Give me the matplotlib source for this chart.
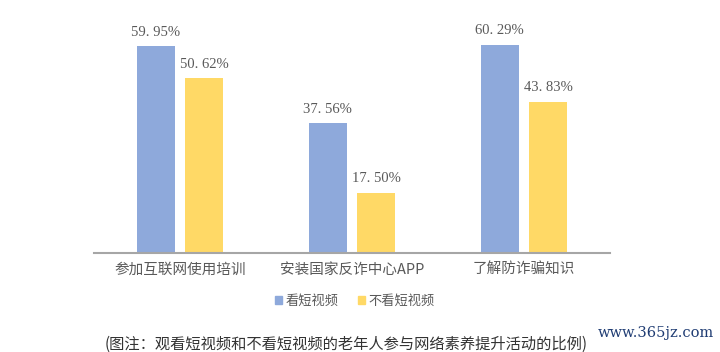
import numpy as np
import matplotlib
matplotlib.use("Agg")
import matplotlib.pyplot as plt
from matplotlib.patches import Rectangle

plt.rcParams['font.family'] = ['Noto Sans CJK SC', 'DejaVu Sans']

# Data
categories = ['参加互联网使用培训', '安装国家反诈中心APP', '了解防诈骗知识']
watch = [59.95, 37.56, 60.29]
no_watch = [50.62, 17.50, 43.83]
series_names = ['看短视频', '不看短视频']
caption = '(图注：观看短视频和不看短视频的老年人参与网络素养提升活动的比例)'
watermark = 'www.365jz.com'

blue = '#8EA9DB'
yellow = '#FFD966'
grey = '#595959'

fig = plt.figure(figsize=(7.2, 3.52), dpi=100)
ax = fig.add_axes([94 / 720, 99 / 352, 516 / 720, 241.5 / 352])

x = np.arange(len(categories))
w = 0.22
off = 0.141
b1 = ax.bar(x - off, watch, w, color=blue)
b2 = ax.bar(x + off, no_watch, w, color=yellow)

for rects, vals in ((b1, watch), (b2, no_watch)):
    for r, v in zip(rects, vals):
        ax.text(r.get_x() + r.get_width() / 2, v + 2.2, f'{v:.2f}'.replace('.', '. ') + '%',
                ha='center', va='bottom', fontsize=10.5, color=grey,
                family=['Liberation Serif', 'DejaVu Serif'])

ax.set_xlim(-0.5, 2.5)
ax.set_ylim(0, 70)
ax.set_yticks([])
ax.set_xticks(x)
ax.set_xticklabels(categories, fontsize=10.5, color=grey)
ax.tick_params(axis='x', length=0, pad=7)
for s in ['top', 'right', 'left']:
    ax.spines[s].set_visible(False)
ax.spines['bottom'].set_color('#A6A6A6')
ax.spines['bottom'].set_linewidth(1.5)

# Legend
leg = fig.legend([Rectangle((0, 0), 1, 1, color=blue), Rectangle((0, 0), 1, 1, color=yellow)],
                 series_names, loc='center', bbox_to_anchor=(355 / 720, 1 - 301 / 352),
                 ncol=2, frameon=False, fontsize=9.5, handlelength=0.5, handleheight=0.5,
                 handletextpad=0.3, columnspacing=1.5)
for t in leg.get_texts():
    t.set_color(grey)

fig.text(105 / 720, 1 - 344 / 352, caption, ha='left', va='center', fontsize=11, color='#333333')
fig.text(598 / 720, 1 - 333 / 352, watermark, ha='left', va='center', fontsize=10.5,
         color='#1F3C73', family=['DejaVu Serif'])

fig.savefig('out.png', dpi=100)
